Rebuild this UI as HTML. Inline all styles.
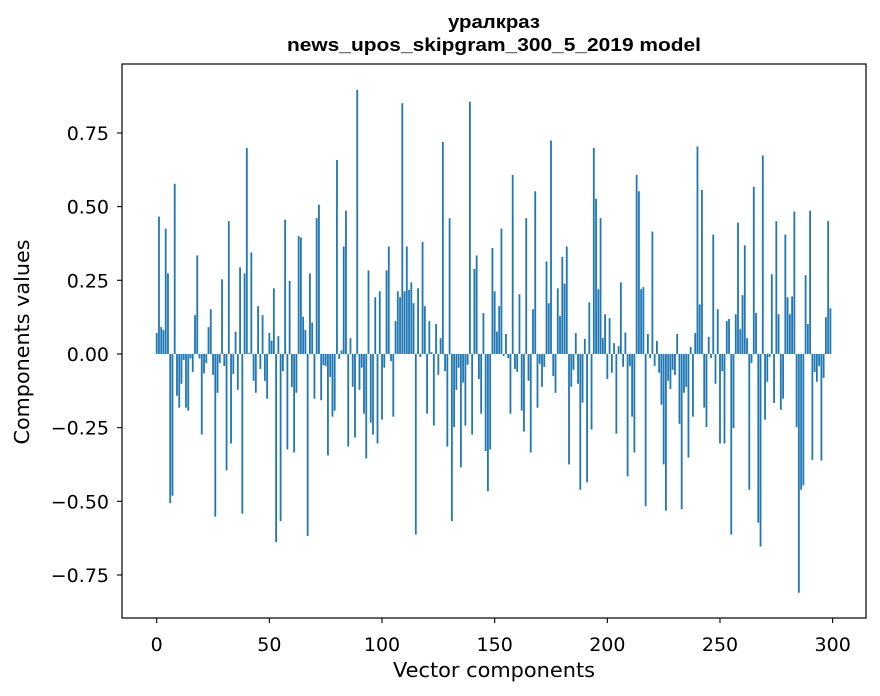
<!DOCTYPE html>
<html><head><meta charset="utf-8"><style>
body{margin:0;background:#fff;}
svg{display:block;font-family:"DejaVu Sans","Liberation Sans",sans-serif;}
</style></head><body>
<svg id="chart" width="880" height="696" viewBox="0 0 880 696" xmlns="http://www.w3.org/2000/svg">
<rect width="880" height="696" fill="#fff"/>
<text x="494" y="28" text-anchor="middle" font-size="18.5" font-weight="bold" font-family="Liberation Sans, sans-serif" textLength="92" lengthAdjust="spacingAndGlyphs">уралкраз</text>
<text x="494" y="51" text-anchor="middle" font-size="18.5" font-weight="bold" font-family="Liberation Sans, sans-serif" textLength="414" lengthAdjust="spacingAndGlyphs">news_upos_skipgram_300_5_2019 model</text>
<g id="bars"></g>
<g id="xticks"></g>
<g id="yticks"></g>
<rect x="122" y="64" width="744" height="554" fill="none" stroke="#000" stroke-width="1.2"/>
<text x="494" y="677" text-anchor="middle" font-size="20" textLength="202" lengthAdjust="spacingAndGlyphs">Vector components</text>
<text transform="translate(29,342) rotate(-90)" text-anchor="middle" font-size="20" textLength="205" lengthAdjust="spacingAndGlyphs">Components values</text>
</svg>
<script>
const values = [
0.07,0.46,0.09,0.08,0.42,0.27,-0.50,-0.475,0.57,-0.14,
-0.18,-0.10,-0.02,-0.18,-0.19,-0.015,-0.06,0.13,0.33,-0.015,
-0.27,-0.065,-0.03,0.09,0.15,-0.07,-0.545,-0.13,-0.03,0.25,
-0.04,-0.39,0.445,-0.30,-0.067,0.075,-0.12,0.29,-0.535,0.27,
0.69,0.003,0.34,-0.09,-0.13,0.16,-0.05,0.13,-0.09,-0.15,
0.07,0.045,0.22,-0.63,0.06,-0.56,-0.057,0.45,-0.32,0.245,
-0.11,-0.33,-0.13,0.395,0.39,0.125,0.08,-0.61,0.27,0.105,
-0.15,0.455,0.50,-0.155,-0.037,-0.04,-0.34,-0.077,-0.21,-0.19,
0.65,-0.017,0.012,0.36,0.48,-0.31,0.053,-0.11,-0.28,0.885,
-0.12,-0.046,-0.20,-0.35,0.28,-0.23,-0.27,0.19,-0.30,0.21,
-0.22,-0.046,0.28,0.36,-0.024,-0.21,0.11,0.21,0.19,0.84,
0.21,0.36,0.215,0.24,0.17,-0.605,0.22,-0.01,0.375,0.16,
-0.20,0.11,0.006,-0.24,0.10,-0.07,0.053,0.71,-0.057,-0.31,
0.455,-0.56,-0.245,-0.12,-0.046,-0.38,-0.096,-0.24,-0.036,0.845,
-0.27,0.285,0.33,-0.084,-0.20,0.137,-0.325,-0.46,-0.32,0.355,
0.21,0.075,0.16,0.42,-0.007,0.067,-0.014,-0.20,0.60,-0.05,
-0.06,0.20,-0.19,-0.26,0.455,-0.09,-0.33,0.15,0.545,-0.18,
-0.033,-0.11,-0.043,0.31,0.17,0.715,-0.074,-0.13,0.22,0.127,
0.325,0.236,0.36,-0.37,-0.11,-0.053,0.07,-0.10,-0.455,-0.163,
0.05,-0.43,0.173,-0.253,0.69,0.52,0.217,0.455,0.053,0.133,
-0.084,0.12,-0.063,0.036,-0.267,0.026,0.24,-0.043,0.072,-0.41,
-0.04,-0.21,-0.33,0.60,0.545,0.217,0.224,-0.51,0.067,-0.014,
0.41,-0.04,0.043,-0.063,-0.17,-0.37,-0.525,-0.09,-0.117,-0.053,
-0.07,0.067,-0.234,-0.52,-0.13,-0.11,-0.347,0.023,-0.21,0.07,
0.695,0.166,0.55,-0.18,-0.245,0.057,-0.014,0.40,-0.10,0.15,
-0.30,-0.057,-0.30,0.11,0.117,-0.605,-0.248,0.133,0.44,0.083,
0.197,0.364,0.053,-0.455,-0.03,0.56,0.137,-0.565,-0.645,0.665,
-0.22,-0.093,-0.01,0.267,-0.164,0.445,0.133,-0.187,-0.15,0.40,
0.19,0.133,0.193,0.477,-0.245,-0.80,-0.455,-0.44,0.264,0.10,
0.48,-0.355,-0.06,-0.093,-0.04,-0.357,-0.08,0.123,0.445,0.153
];
const xTickValues = [0,50,100,150,200,250,300];
const yTickValues = [-0.75,-0.5,-0.25,0,0.25,0.5,0.75];
const yTickLabels = ["\u22120.75","\u22120.50","\u22120.25","0.00","0.25","0.50","0.75"];

const NS="http://www.w3.org/2000/svg";
const plotL=122, plotR=866, plotT=64, plotB=618;
const xMin=-15.4, xMax=314.8;
const yMin=-0.896, yMax=0.984;
const readCorrection=1.013;
function xScale(v){return plotL+(v-xMin)/(xMax-xMin)*(plotR-plotL);}
function yScale(v){return plotB-(v-yMin)/(yMax-yMin)*(plotB-plotT);}
const barsG=document.getElementById('bars');
const bw=xScale(0.8)-xScale(0);
values.forEach((v,i)=>{
  const r=document.createElementNS(NS,'rect');
  const y0=yScale(0), y1=yScale(v*readCorrection);
  r.setAttribute('x',xScale(i-0.4));
  r.setAttribute('y',Math.min(y0,y1));
  r.setAttribute('width',bw);
  r.setAttribute('height',Math.abs(y1-y0));
  r.setAttribute('fill','#1f77b4');
  
  
  barsG.appendChild(r);
});
const xt=document.getElementById('xticks');
xTickValues.forEach(v=>{
  const x=xScale(v);
  const l=document.createElementNS(NS,'line');
  l.setAttribute('x1',x);l.setAttribute('x2',x);l.setAttribute('y1',plotB);l.setAttribute('y2',plotB+5);
  l.setAttribute('stroke','#000');l.setAttribute('stroke-width','1.1');
  
  
  xt.appendChild(l);
  const t=document.createElementNS(NS,'text');
  t.setAttribute('x',x);t.setAttribute('y',plotB+33);t.setAttribute('text-anchor','middle');t.setAttribute('font-size','19');
  t.textContent=String(v);
  
  
  xt.appendChild(t);
});
const yt=document.getElementById('yticks');
yTickValues.forEach((v,i)=>{
  const y=yScale(v);
  const l=document.createElementNS(NS,'line');
  l.setAttribute('x1',plotL-5);l.setAttribute('x2',plotL);l.setAttribute('y1',y);l.setAttribute('y2',y);
  l.setAttribute('stroke','#000');l.setAttribute('stroke-width','1.1');
  
  
  yt.appendChild(l);
  const t=document.createElementNS(NS,'text');
  t.setAttribute('x',plotL-13);t.setAttribute('y',y+7);t.setAttribute('text-anchor','end');t.setAttribute('font-size','19');
  t.textContent=yTickLabels[i];
  
  
  yt.appendChild(t);
});
</script>
</body></html>
